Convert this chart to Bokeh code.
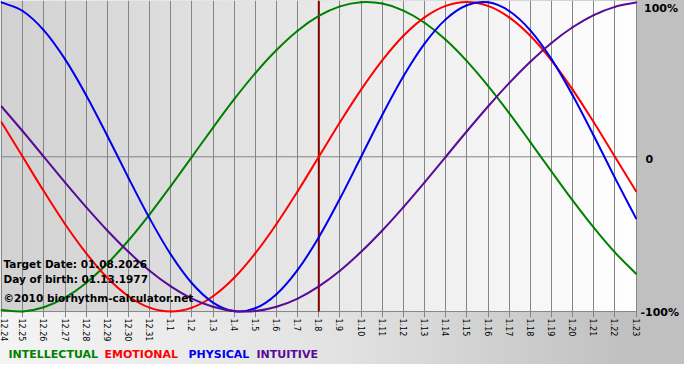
import math
import numpy as np
from bokeh.plotting import figure
from bokeh.layouts import column
from bokeh.models import Range1d, FixedTicker, Label
from bokeh.embed import file_html
from bokeh.resources import INLINE

# ---- data ----
dates = ["12.24", "12.25", "12.26", "12.27", "12.28", "12.29", "12.30", "12.31",
         "1.1", "1.2", "1.3", "1.4", "1.5", "1.6", "1.7", "1.8", "1.9", "1.10",
         "1.11", "1.12", "1.13", "1.14", "1.15", "1.16", "1.17", "1.18", "1.19",
         "1.20", "1.21", "1.22", "1.23"]
target_date = "1.8"

intellectual = [-0.990, -0.999, -0.972, -0.910, -0.815, -0.690, -0.541, -0.372, -0.189, 0.000,
                0.189, 0.372, 0.541, 0.690, 0.815, 0.910, 0.972, 0.999, 0.990, 0.945,
                0.866, 0.756, 0.618, 0.458, 0.282, 0.095, -0.095, -0.282, -0.458, -0.618, -0.756]
emotional = [0.223, 0.000, -0.223, -0.434, -0.623, -0.782, -0.901, -0.975, -1.000, -0.975,
             -0.901, -0.782, -0.623, -0.434, -0.223, 0.000, 0.223, 0.434, 0.623, 0.782,
             0.901, 0.975, 1.000, 0.975, 0.901, 0.782, 0.623, 0.434, 0.223, 0.000, -0.223]
physical = [0.998, 0.942, 0.817, 0.631, 0.398, 0.136, -0.136, -0.398, -0.631, -0.817,
            -0.942, -0.998, -0.979, -0.888, -0.731, -0.520, -0.270, 0.000, 0.270, 0.520,
            0.731, 0.888, 0.979, 0.998, 0.942, 0.817, 0.631, 0.398, 0.136, -0.136, -0.398]
intuitive = [0.325, 0.165, 0.000, -0.165, -0.325, -0.476, -0.614, -0.736, -0.837, -0.916,
             -0.969, -0.997, -0.997, -0.969, -0.916, -0.837, -0.736, -0.614, -0.476, -0.325,
             -0.165, 0.000, 0.165, 0.325, 0.476, 0.614, 0.736, 0.837, 0.916, 0.969, 0.997]

series_names = ["INTELLECTUAL", "EMOTIONAL", "PHYSICAL", "INTUITIVE"]
series_colors = ["#008000", "#ff0000", "#0000ee", "#580c96"]
right_labels = [(1.0, "100%"), (0.0, "0"), (-1.0, "-100%")]
info_lines = ["Target Date: 01.08.2026", "Day of birth: 01.13.1977",
              "\u00a92010 biorhythm-calculator.net"]

# ---- geometry (styling only) ----
W = 684
CHART_W = 636            # width of the dated area
FRAME_H = 319            # chart height incl. 6px tick stubs below -100%
MAIN_H = 344
LEG_H = 20
x = list(range(len(dates)))
X0, X1 = -0.05, len(dates) - 1 + 0.02
px_per_day = CHART_W / (X1 - X0)
X_END = X0 + W / px_per_day
Y_TOP = 1.01
px_per_unit = (FRAME_H - 6) / (Y_TOP + 1.0)
Y_BOT = -1.0 - 6 / px_per_unit

bg_css = {"background": "linear-gradient(to right, #f4f4f4 0%, #e2e2e2 50%, #c0c0c0 92%, #c0c0c0 100%)"}
xr = Range1d(X0, X_END)

p_main = figure(width=W, height=MAIN_H, x_range=xr, y_range=Range1d(Y_BOT, Y_TOP),
                output_backend="svg", toolbar_location=None, y_axis_location=None,
                min_border_left=0, min_border_right=0, min_border_top=0, min_border_bottom=25)
p_main.outline_line_color = None
p_main.background_fill_color = None
p_main.border_fill_color = None
p_main.styles = bg_css

# plot-area gradient (darker left -> white right), only over the dated area
n = 256
img = np.empty((1, n), dtype=np.uint32)
view = img.view(dtype=np.uint8).reshape((1, n, 4))
g = np.linspace(0xd2, 0xff, n).astype(np.uint8)
view[0, :, 0] = g
view[0, :, 1] = g
view[0, :, 2] = g
view[0, :, 3] = 255
p_main.image_rgba(image=[img], x=X0, y=-1.0, dw=X1 - X0, dh=Y_TOP + 1.0, level="image")

# vertical day lines (continue below as tick stubs)
p_main.xgrid.ticker = FixedTicker(ticks=x)
p_main.xgrid.grid_line_color = "#858585"
p_main.ygrid.visible = False
# 0 and -100% horizontal lines
p_main.segment(x0=[X0, X0], y0=[0.0, -1.0], x1=[x[-1] + 0.1, x[-1]], y1=[0.0, -1.0],
               line_color="#858585", line_width=1, level="underlay")
# target date marker (above grid, below curves)
ti = dates.index(target_date)
p_main.segment(x0=[ti], y0=[-1.0], x1=[ti], y1=[Y_TOP], line_color="#800000",
               line_width=2)

ax = p_main.xaxis[0]
ax.ticker = FixedTicker(ticks=x)
ax.major_label_overrides = {i: d for i, d in enumerate(dates)}
ax.major_label_orientation = -math.pi / 2
ax.major_label_text_font = "DejaVu Sans"
ax.major_label_text_font_size = "8px"
ax.major_label_text_color = "#000000"
ax.major_label_standoff = 1
ax.axis_line_color = None
ax.major_tick_line_color = None
ax.major_tick_out = 0
ax.major_tick_in = 0
ax.minor_tick_line_color = None


def bezier_parts(vals):
    """Smooth (Catmull-Rom) drawing of the daily values."""
    nn = len(vals)
    out = {k: [] for k in ("x0", "y0", "x1", "y1", "cx0", "cy0", "cx1", "cy1")}
    for i in range(nn - 1):
        pm = vals[i - 1] if i > 0 else 2 * vals[0] - vals[1]
        p2 = vals[i + 2] if i + 2 < nn else 2 * vals[-1] - vals[-2]
        out["x0"].append(x[i]); out["y0"].append(vals[i])
        out["x1"].append(x[i + 1]); out["y1"].append(vals[i + 1])
        out["cx0"].append(x[i] + 1 / 3); out["cy0"].append(vals[i] + (vals[i + 1] - pm) / 6)
        out["cx1"].append(x[i + 1] - 1 / 3); out["cy1"].append(vals[i + 1] - (p2 - vals[i]) / 6)
    return out


for vals, col in zip([intellectual, emotional, physical, intuitive], series_colors):
    p_main.bezier(line_color=col, line_width=2, line_cap="round", **bezier_parts(vals))

# right-hand labels
for v, t in right_labels:
    off = {"100%": 7.5, "0": 9, "-100%": 4}[t]
    dy = {"100%": -6.5, "0": -2, "-100%": -1}[t]
    p_main.add_layout(Label(x=X1 + off / px_per_day, y=v + dy / px_per_unit, text=t,
                            text_font="DejaVu Sans", text_font_size="11px", text_font_style="bold",
                            text_color="#000000", text_baseline="middle", text_align="left"))

# info text inside the chart
for t, yy in zip(info_lines, [-0.696, -0.792, -0.915]):
    p_main.add_layout(Label(x=X0 + 3 / px_per_day, y=yy, text=t, text_font="DejaVu Sans",
                            text_font_size="10.5px", text_font_style="bold", text_color="#000000",
                            text_baseline="middle", text_align="left"))

# legend strip
p_leg = figure(width=W, height=LEG_H, x_range=xr, y_range=Range1d(0, 1),
               output_backend="svg", toolbar_location=None,
               x_axis_location=None, y_axis_location=None,
               min_border_left=0, min_border_right=0, min_border_top=0, min_border_bottom=0)
p_leg.outline_line_color = None
p_leg.background_fill_color = None
p_leg.border_fill_color = None
p_leg.grid.visible = False
p_leg.styles = bg_css
for name, col, lx in zip(series_names, series_colors, [8, 104, 188, 256]):
    p_leg.add_layout(Label(x=X0 + lx / px_per_day, y=0.5, text=name,
                           text_font="DejaVu Sans", text_font_size="11px", text_font_style="bold",
                           text_color=col, text_baseline="middle", text_align="left"))

p = column(p_main, p_leg, spacing=0)
open("out.html", "w").write(file_html(p, INLINE))
